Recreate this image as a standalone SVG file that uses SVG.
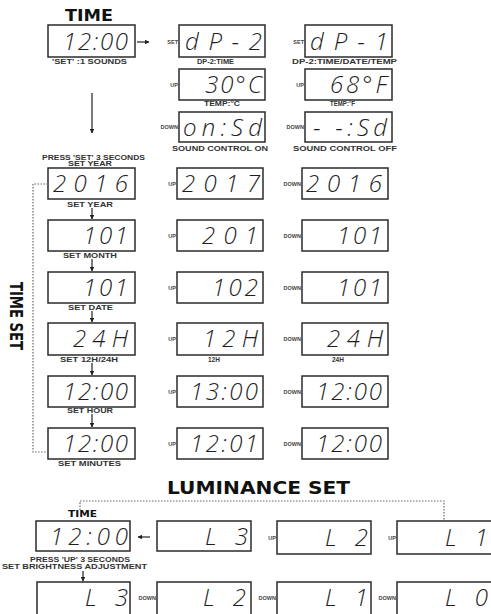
<svg xmlns="http://www.w3.org/2000/svg" width="491" height="614" viewBox="0 0 491 614">
<style>
.box{fill:#fff;stroke:#2b2b2b;stroke-width:1.5}
.lcd{font-family:"Open Sans","DejaVu Sans",sans-serif;font-style:italic;font-weight:300;font-size:24px;fill:#1e1e1e}
.cap{font-family:"Liberation Sans",Arial,sans-serif;font-weight:bold;font-size:6.5px;fill:#333}
.tag{font-family:"Liberation Sans",Arial,sans-serif;font-weight:bold;font-size:5.5px;fill:#444;text-anchor:end}
.ttl{font-family:"DejaVu Sans",sans-serif;font-weight:bold;fill:#111}
.ln{stroke:#222;stroke-width:1.2;fill:none}
.dot{stroke:#666;stroke-width:1.2;fill:none;stroke-dasharray:1.5 1.5}
</style>
<defs>
<marker id="ah" viewBox="0 0 10 10" refX="9" refY="5" markerWidth="4" markerHeight="4" orient="auto"><path d="M0,0 L10,5 L0,10 z" fill="#222"/></marker>
</defs>

<!-- titles -->
<text class="ttl" x="65" y="21" font-size="15" textLength="48" lengthAdjust="spacingAndGlyphs">TIME</text>
<text class="ttl" transform="translate(10,282) rotate(90)" font-size="18" textLength="68" lengthAdjust="spacingAndGlyphs">TIME SET</text>
<text class="ttl" x="167" y="494" font-size="18" textLength="183" lengthAdjust="spacingAndGlyphs">LUMINANCE SET</text>
<text class="ttl" x="68" y="517" font-size="8.5" textLength="29" lengthAdjust="spacingAndGlyphs">TIME</text>

<!-- top section -->
<g id="n-time"><rect class="box" x="48" y="25" width="87" height="32"/><text class="lcd" x="63" y="50" textLength="65" lengthAdjust="spacing">12:00</text><text class="cap" x="52" y="64" textLength="75" lengthAdjust="spacingAndGlyphs">'SET' :1 SOUNDS</text></g>
<g id="n-dp2"><text class="tag" x="178" y="44">SET</text><rect class="box" x="179" y="25" width="86" height="32"/><text class="lcd" x="185" y="50" textLength="77" lengthAdjust="spacing">dP-2</text><text class="cap" x="197" y="64" textLength="37" lengthAdjust="spacingAndGlyphs">DP-2:TIME</text></g>
<g id="n-dp1"><text class="tag" x="304" y="44">SET</text><rect class="box" x="305" y="25" width="87" height="32"/><text class="lcd" x="310" y="50" textLength="78" lengthAdjust="spacing">dP-1</text><text class="cap" x="292" y="64" textLength="105" lengthAdjust="spacingAndGlyphs">DP-2:TIME/DATE/TEMP</text></g>
<g id="n-30c"><text class="tag" x="178" y="87">UP</text><rect class="box" x="179" y="69" width="86" height="31"/><text class="lcd" x="205" y="93" textLength="57" lengthAdjust="spacing">30°C</text><text class="cap" x="204" y="106" textLength="36" lengthAdjust="spacingAndGlyphs">TEMP:°C</text></g>
<g id="n-68f"><text class="tag" x="304" y="87">UP</text><rect class="box" x="305" y="69" width="87" height="31"/><text class="lcd" x="330" y="93" textLength="57" lengthAdjust="spacing">68°F</text><text class="cap" x="330" y="106" textLength="25" lengthAdjust="spacingAndGlyphs">TEMP:°F</text></g>
<g id="n-on"><text class="tag" x="178" y="129">DOWN</text><rect class="box" x="179" y="112" width="86" height="30"/><text class="lcd" x="183" y="136" textLength="79" lengthAdjust="spacing">on:Sd</text><text class="cap" x="172" y="151" textLength="96" lengthAdjust="spacingAndGlyphs">SOUND CONTROL ON</text></g>
<g id="n-off"><text class="tag" x="304" y="129">DOWN</text><rect class="box" x="305" y="112" width="87" height="30"/><text class="lcd" x="313" y="136" textLength="74" lengthAdjust="spacing">- -:Sd</text><text class="cap" x="293" y="151" textLength="104" lengthAdjust="spacingAndGlyphs">SOUND CONTROL OFF</text></g>

<!-- time set -->
<text class="cap" x="42" y="160" textLength="103" lengthAdjust="spacingAndGlyphs">PRESS 'SET' 3 SECONDS</text>
<text class="cap" x="68" y="166" textLength="44" lengthAdjust="spacingAndGlyphs">SET YEAR</text>

<g id="n-year"><rect class="box" x="48" y="168" width="87" height="31"/><text class="lcd" x="53" y="192" textLength="75" lengthAdjust="spacing">2016</text><text class="cap" x="67" y="207" textLength="46" lengthAdjust="spacingAndGlyphs">SET YEAR</text></g>
<g id="n-year-up"><text class="tag" x="176" y="186">UP</text><rect class="box" x="177" y="168" width="86" height="31"/><text class="lcd" x="182" y="192" textLength="78" lengthAdjust="spacing">2017</text></g>
<g id="n-year-dn"><text class="tag" x="301" y="186">DOWN</text><rect class="box" x="302" y="168" width="86" height="31"/><text class="lcd" x="306" y="192" textLength="76" lengthAdjust="spacing">2016</text></g>

<g id="n-month"><rect class="box" x="48" y="220" width="87" height="31"/><text class="lcd" x="83" y="244" textLength="45" lengthAdjust="spacing">101</text><text class="cap" x="63" y="258" textLength="54" lengthAdjust="spacingAndGlyphs">SET MONTH</text></g>
<g id="n-month-up"><text class="tag" x="176" y="238">UP</text><rect class="box" x="177" y="220" width="86" height="31"/><text class="lcd" x="202" y="244" textLength="56" lengthAdjust="spacing">201</text></g>
<g id="n-month-dn"><text class="tag" x="301" y="238">DOWN</text><rect class="box" x="302" y="220" width="86" height="31"/><text class="lcd" x="337" y="244" textLength="45" lengthAdjust="spacing">101</text></g>

<g id="n-date"><rect class="box" x="48" y="272" width="87" height="31"/><text class="lcd" x="83" y="296" textLength="45" lengthAdjust="spacing">101</text><text class="cap" x="68" y="310" textLength="45" lengthAdjust="spacingAndGlyphs">SET DATE</text></g>
<g id="n-date-up"><text class="tag" x="176" y="290">UP</text><rect class="box" x="177" y="272" width="86" height="31"/><text class="lcd" x="212" y="296" textLength="46" lengthAdjust="spacing">102</text></g>
<g id="n-date-dn"><text class="tag" x="301" y="290">DOWN</text><rect class="box" x="302" y="272" width="86" height="31"/><text class="lcd" x="337" y="296" textLength="45" lengthAdjust="spacing">101</text></g>

<g id="n-h"><rect class="box" x="48" y="323" width="87" height="32"/><text class="lcd" x="73" y="347" textLength="55" lengthAdjust="spacing">24H</text><text class="cap" x="60" y="362" textLength="58" lengthAdjust="spacingAndGlyphs">SET 12H/24H</text></g>
<g id="n-h-up"><text class="tag" x="176" y="341">UP</text><rect class="box" x="177" y="323" width="86" height="32"/><text class="lcd" x="203" y="347" textLength="55" lengthAdjust="spacing">12H</text><text class="cap" x="208" y="362" font-size="5.5">12H</text></g>
<g id="n-h-dn"><text class="tag" x="301" y="341">DOWN</text><rect class="box" x="302" y="323" width="86" height="32"/><text class="lcd" x="327" y="347" textLength="56" lengthAdjust="spacing">24H</text><text class="cap" x="332" y="362" font-size="5.5">24H</text></g>

<g id="n-hour"><rect class="box" x="48" y="376" width="87" height="31"/><text class="lcd" x="63" y="400" textLength="65" lengthAdjust="spacing">12:00</text><text class="cap" x="67" y="413" textLength="46" lengthAdjust="spacingAndGlyphs">SET HOUR</text></g>
<g id="n-hour-up"><text class="tag" x="176" y="394">UP</text><rect class="box" x="177" y="376" width="86" height="31"/><text class="lcd" x="190" y="400" textLength="68" lengthAdjust="spacing">13:00</text></g>
<g id="n-hour-dn"><text class="tag" x="301" y="394">DOWN</text><rect class="box" x="302" y="376" width="86" height="31"/><text class="lcd" x="316" y="400" textLength="66" lengthAdjust="spacing">12:00</text></g>

<g id="n-min"><rect class="box" x="48" y="428" width="87" height="31"/><text class="lcd" x="63" y="452" textLength="65" lengthAdjust="spacing">12:00</text><text class="cap" x="58" y="466" textLength="63" lengthAdjust="spacingAndGlyphs">SET MINUTES</text></g>
<g id="n-min-up"><text class="tag" x="176" y="446">UP</text><rect class="box" x="177" y="428" width="86" height="31"/><text class="lcd" x="190" y="452" textLength="68" lengthAdjust="spacing">12:01</text></g>
<g id="n-min-dn"><text class="tag" x="301" y="446">DOWN</text><rect class="box" x="302" y="428" width="86" height="31"/><text class="lcd" x="316" y="452" textLength="66" lengthAdjust="spacing">12:00</text></g>

<!-- luminance -->
<g id="n-lt"><rect class="box" x="36" y="521" width="94" height="30"/><text class="lcd" x="50" y="545" textLength="78" lengthAdjust="spacing">12:00</text>
<text class="cap" x="30" y="562" textLength="100" lengthAdjust="spacingAndGlyphs">PRESS 'UP' 3 SECONDS</text>
<text class="cap" x="2" y="569" textLength="145" lengthAdjust="spacingAndGlyphs">SET BRIGHTNESS ADJUSTMENT</text></g>
<g id="n-l3a"><rect class="box" x="157" y="521" width="94" height="30"/><text class="lcd" x="205" y="545" textLength="43" lengthAdjust="spacing">L3</text></g>
<g id="n-l2a"><text class="tag" x="276" y="540">UP</text><rect class="box" x="277" y="521" width="94" height="33"/><text class="lcd" x="325" y="546" textLength="43" lengthAdjust="spacing">L2</text></g>
<g id="n-l1a"><text class="tag" x="396" y="540">UP</text><rect class="box" x="397" y="521" width="100" height="33"/><text class="lcd" x="445" y="546" textLength="43" lengthAdjust="spacing">L1</text></g>

<g id="n-l3b"><rect class="box" x="37" y="582" width="93" height="40"/><text class="lcd" x="85" y="606" textLength="43" lengthAdjust="spacing">L3</text></g>
<g id="n-l2b"><text class="tag" x="156" y="600">DOWN</text><rect class="box" x="157" y="582" width="94" height="40"/><text class="lcd" x="203" y="606" textLength="43" lengthAdjust="spacing">L2</text></g>
<g id="n-l1b"><text class="tag" x="276" y="600">DOWN</text><rect class="box" x="277" y="582" width="94" height="40"/><text class="lcd" x="325" y="606" textLength="43" lengthAdjust="spacing">L1</text></g>
<g id="n-l0b"><text class="tag" x="396" y="600">DOWN</text><rect class="box" x="397" y="582" width="100" height="40"/><text class="lcd" x="445" y="606" textLength="43" lengthAdjust="spacing">L0</text></g>

<!-- connectors -->
<g id="connectors">
<line class="ln" x1="137" y1="42" x2="149" y2="42" marker-end="url(#ah)"/>
<line class="ln" x1="92" y1="93" x2="92" y2="133" stroke-width="2" marker-end="url(#ah)"/>
<line class="ln" x1="92" y1="208" x2="92" y2="219" marker-end="url(#ah)"/>
<line class="ln" x1="92" y1="259" x2="92" y2="271" marker-end="url(#ah)"/>
<line class="ln" x1="92" y1="311" x2="92" y2="322" marker-end="url(#ah)"/>
<line class="ln" x1="92" y1="363" x2="92" y2="375" marker-end="url(#ah)"/>
<line class="ln" x1="92" y1="414" x2="92" y2="427" marker-end="url(#ah)"/>
<line class="ln" x1="150" y1="537" x2="138" y2="537" marker-end="url(#ah)"/>
<line class="ln" x1="83" y1="571" x2="83" y2="581" marker-end="url(#ah)"/>
<polyline class="dot" points="48,184 33,184 33,452 48,452"/>
<polyline class="dot" points="80,510 80,501 444,501 444,520"/>
</g>
</svg>
